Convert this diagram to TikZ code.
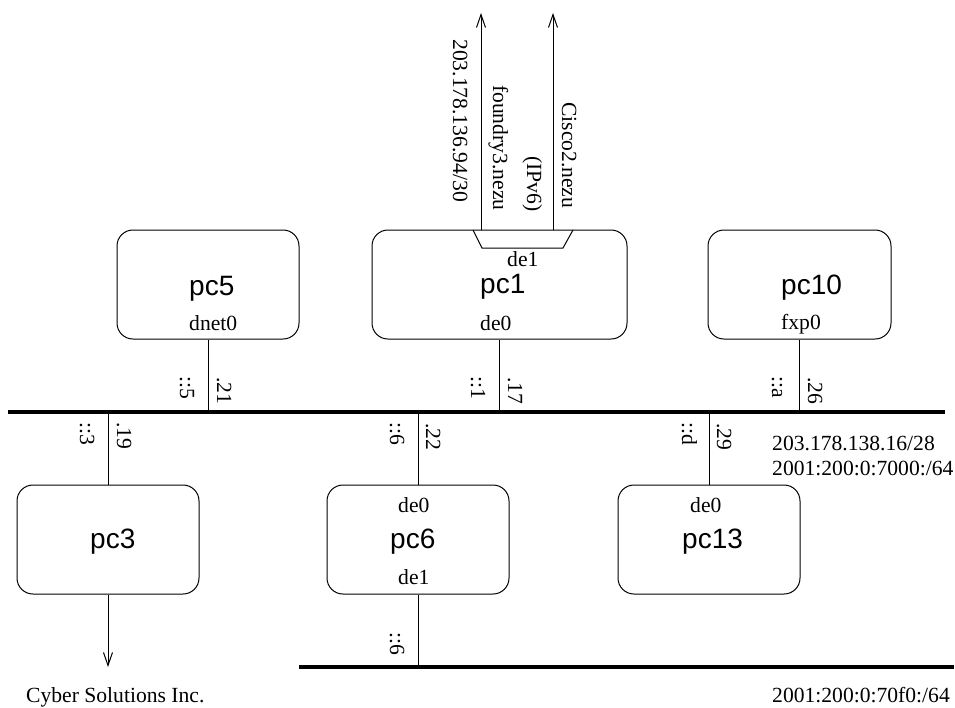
\documentclass[tikz,border=0pt]{standalone}
\usepackage{fontspec}
\setmainfont{Liberation Serif}
\newfontfamily\hvfont{Liberation Sans}
\usetikzlibrary{arrows.meta}

\begin{document}
\begin{tikzpicture}[x=1pt,y=-1pt,
  host/.style={draw, line width=1pt, rounded corners=16pt, inner sep=0pt,
               minimum height=109pt},
  hostname/.style={anchor=base west, inner sep=0pt,
                   font=\hvfont\fontsize{28}{31}\selectfont},
  ifname/.style={anchor=base west, inner sep=0pt,
                 font=\fontsize{21.6}{25}\selectfont},
  addr/.style={anchor=base west, inner sep=0pt, rotate=-90,
               font=\fontsize{21.6}{25}\selectfont},
  bus/.style={line width=3.5pt},
  link/.style={line width=1pt},
  uplink/.style={line width=1pt, -{Straight Barb[length=13pt,width=9pt]}}
]
\useasboundingbox (0,0) rectangle (955,707);

% segments
\coordinate (busA-w) at (8,412);
\coordinate (busA-e) at (945,412);
\coordinate (busB-w) at (299,667);
\coordinate (busB-e) at (954,667);
\draw[bus] (busA-w) -- (busA-e);
\draw[bus] (busB-w) -- (busB-e);

% hosts
\node[host, minimum width=182pt] (pc5)  at (208,284.5) {};
\node[host, minimum width=255pt] (pc1)  at (499.5,284.5) {};
\node[host, minimum width=183pt] (pc10) at (799.5,284.5) {};
\node[host, minimum width=182pt] (pc3)  at (108,539.5) {};
\node[host, minimum width=182pt] (pc6)  at (418,539.5) {};
\node[host, minimum width=182pt] (pc13) at (709,539.5) {};

% host labels
\node[hostname] (t-pc5)  at (189,295) {pc5};
\node[ifname]   (t-dnet) at (189,330) {dnet0};
\node[ifname]   (t-de1a) at (507,266) {de1};
\node[hostname] (t-pc1)  at (480,293) {pc1};
\node[ifname]   (t-de0a) at (480,330) {de0};
\node[hostname] (t-pc10) at (781,294) {pc10};
\node[ifname]   (t-fxp)  at (781,329) {fxp0};
\node[hostname] (t-pc3)  at (90,548) {pc3};
\node[ifname]   (t-de0b) at (398,512) {de0};
\node[hostname] (t-pc6)  at (390,548) {pc6};
\node[ifname]   (t-de1b) at (398,584) {de1};
\node[ifname]   (t-de0c) at (690,512) {de0};
\node[hostname] (t-pc13) at (682,548) {pc13};

% links to the upper segment
\draw[link] (pc5.south)  -- (pc5.south  |- busA-w);
\draw[link] (pc1.south)  -- (pc1.south  |- busA-w);
\draw[link] (pc10.south) -- (pc10.south |- busA-w);
\draw[link] (pc3.north)  -- (pc3.north  |- busA-w);
\draw[link] (pc6.north)  -- (pc6.north  |- busA-w);
\draw[link] (pc13.north) -- (pc13.north |- busA-w);
% link to the lower segment
\draw[link] (pc6.south)  -- (pc6.south  |- busB-w);

% external port of pc1 and its uplinks
\draw[link] (473,230) -- (482,248) -- (563,248) -- (573,230);
\coordinate (up-foundry) at (481,13);
\coordinate (up-cisco)   at (553,13);
\draw[uplink] (pc1.north -| up-foundry) -- (up-foundry);
\draw[uplink] (pc1.north -| up-cisco)   -- (up-cisco);
\coordinate (down-cyber) at (108,667);
\draw[uplink] (pc3.south) -- (down-cyber);

% uplink labels
\node[addr] (l-v4up)    at (453,39)  {203.178.136.94/30};
\node[addr] (l-foundry) at (493,85)  {foundry3.nezu};
\node[addr] (l-ipv6)    at (527,156) {(IPv6)};
\node[addr] (l-cisco)   at (562,102) {Cisco2.nezu};

% interface addresses
\node[addr] (a-pc5-6)  at (180,376) {::5};
\node[addr] (a-pc5-4)  at (217,377) {.21};
\node[addr] (a-pc1-6)  at (471,376) {::1};
\node[addr] (a-pc1-4)  at (508,377) {.17};
\node[addr] (a-pc10-6) at (772,376) {::a};
\node[addr] (a-pc10-4) at (808,377) {.26};
\node[addr] (a-pc3-6)  at (80,422)  {::3};
\node[addr] (a-pc3-4)  at (117,422) {.19};
\node[addr] (a-pc6-6)  at (390,422) {::6};
\node[addr] (a-pc6-4)  at (426,423) {.22};
\node[addr] (a-pc13-6) at (682,422) {::d};
\node[addr] (a-pc13-4) at (717,423) {.29};
\node[addr] (a-pc6b-6) at (390,632) {::6};

% segment and site labels
\node[ifname] (n-upper4) at (772,450) {203.178.138.16/28};
\node[ifname] (n-upper6) at (772,475) {2001:200:0:7000:/64};
\node[ifname] (n-lower6) at (772,702) {2001:200:0:70f0:/64};
\node[ifname] (n-cyber)  at (26,702)  {Cyber Solutions Inc.};
\end{tikzpicture}
\end{document}
